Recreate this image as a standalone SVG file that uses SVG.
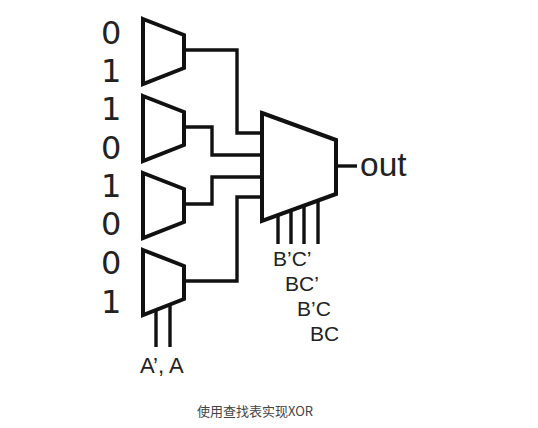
<svg xmlns="http://www.w3.org/2000/svg" width="538" height="428" viewBox="0 0 538 428">
<style>
.m{fill:#fff;stroke:#111;stroke-width:4;stroke-linejoin:miter}
.w{fill:none;stroke:#111;stroke-width:3.4}
text{font-family:"Liberation Sans",Arial,sans-serif;fill:#222}
.d{font-size:32px;font-family:"DejaVu Sans",sans-serif}
.s{font-size:21px}
.a{font-size:22px}
.o{font-size:33.5px}
.c{font-size:13px;font-family:"Noto Sans CJK SC","Liberation Sans",sans-serif;fill:#444}
</style>
<rect width="538" height="428" fill="#fff"/>
<g id="connectors">
<path class="w" d="M184 50H237V133H262"/>
<path class="w" d="M184 127H212V155H262"/>
<path class="w" d="M184 204H212V177H262"/>
<path class="w" d="M184 281H237V197H262"/>
<path class="w" d="M336 166H357"/>
<path class="w" d="M156 310V347M170 305V347"/>
<path class="w" d="M278 215V244M291 211V244M304 206V244M318 202V244"/>
</g>
<g id="mux1"><path class="m" d="M143 19L184 35V68L143 84Z"/></g>
<g id="mux2"><path class="m" d="M143 96L184 112V145L143 161Z"/></g>
<g id="mux3"><path class="m" d="M143 173L184 189V222L143 238Z"/></g>
<g id="mux4"><path class="m" d="M143 250L184 266V299L143 315Z"/></g>
<g id="mux5"><path class="m" d="M262 113L336 140V194L262 221Z"/></g>
<g id="inputs">
<text class="d" x="101" y="44">0</text>
<text class="d" x="101" y="82">1</text>
<text class="d" x="101" y="120">1</text>
<text class="d" x="101" y="159">0</text>
<text class="d" x="101" y="197">1</text>
<text class="d" x="101" y="235">0</text>
<text class="d" x="101" y="274">0</text>
<text class="d" x="101" y="313">1</text>
</g>
<g id="labels">
<text class="o" x="360" y="176">out</text>
<text class="s" x="273" y="266">B’C’</text>
<text class="s" x="285" y="291">BC’</text>
<text class="s" x="297" y="316">B’C</text>
<text class="s" x="310" y="341">BC</text>
<text class="a" x="140" y="373">A’, A</text>
<text class="c" x="197" y="416">使用查找表实现XOR</text>
</g>
</svg>
